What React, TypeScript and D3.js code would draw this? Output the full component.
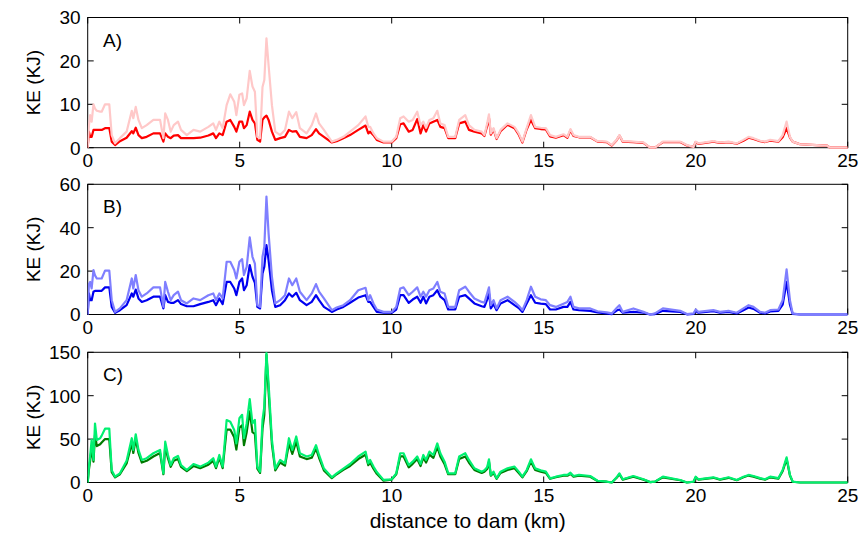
import React from "react";
import * as d3 from "d3";

// distance to dam (km), shared by all series
const distanceKm = [
  0, 0.04, 0.08, 0.13, 0.19, 0.24, 0.3, 0.41, 0.46, 0.57, 0.71, 0.79, 0.9, 1.06, 1.28, 1.45, 1.5, 1.58, 1.67, 1.78,
  1.94, 2.16, 2.38, 2.49, 2.55, 2.64, 2.73, 2.83, 2.97, 3.07, 3.26, 3.48, 3.7, 3.97, 4.13, 4.22, 4.33, 4.44, 4.57, 4.69,
  4.82, 4.89, 4.99, 5.08, 5.14, 5.23, 5.33, 5.42, 5.5, 5.58, 5.67, 5.75, 5.81, 5.88, 5.95, 6.06, 6.17, 6.33, 6.49, 6.62,
  6.73, 6.86, 6.98, 7.2, 7.37, 7.51, 7.61, 7.77, 8.03, 8.19, 8.41, 8.63, 8.9, 9.14, 9.23,
  9.29, 9.4, 9.51, 9.73, 10.0, 10.15, 10.28, 10.39, 10.56, 10.69, 10.84, 10.95, 11.04, 11.13, 11.24, 11.37, 11.5, 11.6, 11.74, 11.86,
  12.09, 12.22, 12.42, 12.54, 12.72, 12.96, 13.05, 13.14, 13.2, 13.26, 13.35, 13.45, 13.58, 13.81, 14.04, 14.18, 14.3, 14.44, 14.58, 14.72,
  14.9, 15.07, 15.21, 15.4, 15.65, 15.78, 15.88, 15.98, 16.16, 16.53, 16.77, 17.07, 17.24, 17.4, 17.49, 17.6, 17.95, 18.28, 18.5, 18.66,
  18.92,
  19.49, 19.71, 19.93, 20.0, 20.09, 20.58, 20.8, 21.08, 21.35, 21.57, 21.74, 21.9, 22.12, 22.28, 22.45, 22.72, 22.86, 22.99, 23.1, 23.19,
  23.43, 23.98, 24.31, 24.42, 25.0,
];

// Panel A (red)
const keALight = [
  0, 5, 7.5, 6, 10, 9, 8.5, 8.3, 8.3, 10, 10, 2.9, 1.0, 2.2, 3.7, 8.5, 6.8, 9.4, 6.4, 4.5,
  5.2, 6.4, 6.4, 2.2, 7.9, 6.4, 3.7, 5.2, 6.0, 4.1, 2.9, 4.1, 3.7, 4.8, 5.6, 4.1, 6.0, 4.5, 9.8, 12.3,
  10.6, 7.5, 12.2, 12.5, 9.8, 11.4, 17.7, 14.1, 12.9, 2.5, 2.2, 14, 15.6, 25.2, 19, 9.8, 3.7, 2.9, 4.1, 8.3,
  6.8, 8.2, 4.5, 3.3, 5.2, 7.9, 5.6, 4.1, 1.4, 1.8, 2.5, 3.7, 5.2, 7.2, 4.8,
  4.8, 3.3, 2.2, 1.4, 1.4, 2.5, 6.8, 7.2, 6.0, 6.4, 8.3, 5.2, 6.0, 4.6, 6.4, 6.8, 8.5, 5.6, 5.2, 2.5,
  2.5, 6.4, 7.5, 5.2, 4.1, 3.7, 2.9, 5.6, 7.7, 3.3, 4.5, 2.2, 4.1, 5.6, 4.8, 3.3, 1.4, 4.5, 7.5, 4.8,
  4.6, 4.5, 2.9, 2.5, 3.1, 2.5, 4.3, 2.9, 2.5, 2.5, 1.5, 1.4, 0.6, 1.8, 2.9, 1.5, 1.4, 1.2, 0, 0,
  1.4,
  1.4, 0.6, 0.2, 1.4, 1.0, 1.5, 1.2, 1.4, 1.0, 1.8, 2.5, 2.2, 1.6, 1.4, 1.8, 1.5, 2.9, 6.0, 2.5, 1.4,
  0.8, 0.6, 0.5, 0, 0,
];
const keADark = [
  0, 3.7, 2.5, 2.5, 4.1, 4.1, 4.1, 4.1, 4.1, 4.5, 4.5, 1.4, 0.6, 1.5, 2.3, 3.8, 3.3, 4.6, 2.9, 2.2,
  2.5, 3.3, 3.3, 1.4, 3.3, 2.5, 2.2, 2.8, 2.9, 2.2, 2.2, 2.2, 2.3, 2.8, 3.3, 2.2, 3.3, 2.9, 6.0, 6.4,
  4.8, 3.7, 6, 6, 4.5, 5.2, 8.3, 6.4, 5.6, 1.8, 1.4, 6.4, 7, 7.4, 6.4, 3.7, 1.8, 2.2, 2.5, 4.1,
  3.7, 3.8, 2.5, 2.2, 2.9, 4.3, 3.3, 2.5, 1.2, 1.5, 2.2, 2.9, 4.1, 5.1, 3.3,
  3.7, 2.9, 1.8, 1.2, 1.2, 2.2, 5.4, 5.6, 3.7, 4.1, 6.6, 3.3, 5.2, 3.7, 5.6, 6.0, 6.4, 4.8, 4.5, 2.2,
  2.2, 5.6, 6.0, 4.1, 3.7, 3.3, 2.7, 5.0, 6.9, 3.0, 4.2, 2.0, 3.8, 5.3, 4.5, 3.0, 1.2, 4.2, 6.4, 4.5,
  4.3, 4.2, 2.6, 2.3, 2.9, 2.3, 4.0, 2.7, 2.4, 2.4, 1.4, 1.3, 0.5, 1.7, 2.8, 1.4, 1.3, 1.1, 0, 0,
  1.3,
  1.3, 0.5, 0.2, 1.3, 0.9, 1.4, 1.1, 1.3, 0.9, 1.6, 2.3, 2.0, 1.5, 1.3, 1.6, 1.4, 2.4, 4.5, 2.3, 1.4,
  0.8, 0.6, 0.5, 0, 0,
];

// Panel B (blue)
const keBLight = [
  0, 14, 15, 12, 20.5, 18, 16.6, 16.6, 16.6, 20.2, 20.2, 6.6, 1.2, 2.8, 6.6, 16.6, 12, 18.2, 11.2, 8.2,
  9.7, 12.5, 12.5, 3.5, 15, 10.5, 6.6, 8.9, 10.5, 6.6, 5.1, 7.4, 6.6, 8.9, 9.7, 6.6, 9.7, 7.4, 24.3, 24.3,
  20.5, 16.6, 24.3, 25.5, 18.2, 22, 35.5, 26.6, 23.5, 4.3, 3.5, 26.6, 31.2, 54.3, 37.4, 17.4, 5.1, 6.6, 8.9, 16.6,
  13.5, 16.6, 10.5, 6.6, 9.7, 14, 10.5, 7.4, 2, 3.2, 4.3, 6.6, 11.2, 12.3, 6.6,
  8.9, 5.1, 2.3, 1.2, 1.2, 3.5, 12, 12.5, 8.9, 10.5, 12.5, 8.2, 10.5, 8.2, 11.2, 12, 15, 10.5, 9.7, 3.5,
  3.5, 11.2, 12.8, 10.5, 7.4, 5.8, 5.5, 9.7, 12.5, 4.3, 6.6, 2.8, 6.6, 8.2, 5.8, 4, 2, 6.6, 12.8, 8.2,
  7, 6.6, 4.3, 3.5, 5, 5.8, 8.2, 3.5, 2.8, 2.8, 1.5, 1.0, 0.5, 3.0, 4.3, 1.2, 2.8, 1.2, 0, 0.5,
  2.8,
  1.7, 0.2, 0.5, 2.3, 1.2, 2, 1.2, 1.7, 0.8, 2.8, 4.3, 3.5, 1.2, 0.8, 2, 2.3, 6.6, 20.8, 6.6, 0.5,
  0, 0, 0, 0, 0,
];
const keBDark = [
  0, 9.7, 6.6, 6.6, 10.5, 10.9, 10.9, 10.9, 10.9, 12.5, 12.5, 3.5, 0.8, 2, 4.3, 9.7, 8.2, 11.5, 7.4, 5.8,
  6.6, 8.2, 8.2, 2.8, 8.9, 5.8, 5.4, 5.4, 6.6, 4.8, 3.8, 3.8, 4.8, 5.8, 6.6, 4.3, 7.4, 4.8, 15, 15,
  12, 8.9, 15, 16.6, 11.2, 13.5, 22.8, 17.4, 14.6, 3.5, 2.8, 18.9, 22, 32, 25.1, 11.2, 3.5, 4.3, 6.6, 9.7,
  8.2, 10, 6.6, 4.3, 5.8, 8.9, 6.6, 3.5, 1.2, 2.3, 3.5, 5.4, 7.8, 8.9, 5.8,
  5.8, 3.5, 1.2, 0.8, 0.8, 2.3, 8.9, 8.9, 5.4, 6.9, 8.2, 5.4, 8.2, 5.1, 8.2, 8.9, 11.2, 8.2, 6.6, 2.3,
  2.3, 8.2, 8.9, 7.4, 5.1, 3.8, 3.5, 6.9, 9.7, 2.8, 4.8, 2, 5.1, 6.6, 4.3, 3, 1.2, 5.1, 8.9, 5.4,
  5, 4.8, 2.3, 2.3, 3.5, 3.5, 5.8, 2.3, 2, 1.7, 1.0, 0.5, 0.2, 1.8, 2.3, 0.8, 1.2, 0.8, 0, 0.2,
  1.7,
  1.2, 0.1, 0.3, 1.7, 0.8, 1.5, 0.8, 1.2, 0.5, 2, 3.2, 2.6, 0.8, 0.5, 1.4, 1.7, 4.5, 15, 4.5, 0.3,
  0, 0, 0, 0, 0,
];

// Panel C (green)
const keCLight = [
  0, 18, 30, 49, 26, 68, 49, 51, 54, 62, 62, 14, 6.7, 10.6, 25, 51, 37.5, 55.6, 37.5, 26,
  28, 33.7, 37.5, 10.6, 47, 31.7, 20, 28, 30.6, 20, 14.4, 21.3, 18.3, 22.9, 28, 18.3, 31.7, 18.3, 72, 70,
  60.6, 45, 74, 78, 51, 68, 96, 68, 72, 18.3, 12.5, 72, 87.5, 149, 114, 49, 16, 26, 22, 51,
  37.5, 53, 33.7, 30, 31.7, 43, 31.7, 16, 6, 10.6, 16, 21.3, 30, 35.6, 22,
  26, 18.3, 12, 3, 3.7, 10.6, 33.7, 33.7, 20, 24, 30, 21.3, 31.7, 26, 35.6, 31.7, 45, 33.7, 24, 10.6,
  10.6, 30, 33.7, 26, 16.3, 12.5, 14, 17.5, 26.7, 8.7, 12.5, 4.8, 12.5, 16.3, 18.3, 12.5, 6.7, 14.4, 26.7, 16.3,
  14, 12.5, 4.8, 6.7, 8.7, 8.7, 11.3, 7.5, 8.7, 7.5, 2, 1, 0, 6, 10.6, 3.7, 7.5, 3.7, 0.5, 1,
  6.7,
  2.9, 0, 1, 6.7, 3.7, 6, 3.7, 6, 2.9, 6.7, 8.7, 7.5, 5, 3.7, 6.7, 5, 14.4, 29, 8.7, 1,
  0, 0, 0, 0, 0,
];
const keCDark = [
  0, 15, 25, 40, 24, 55, 42, 44, 46, 50, 50, 12, 6, 9.5, 22, 45, 34, 50, 34, 23,
  25, 30, 34, 9.5, 42, 28, 18, 25, 27, 18, 13, 19, 16.5, 20.5, 25, 16.5, 28.5, 16.5, 61, 61,
  52, 38, 63, 66, 43, 58, 82, 58, 56, 16, 11, 62, 78, 147, 105, 44, 14, 23, 19.5, 45,
  33, 47, 30, 27, 28.5, 39, 28.5, 14, 5, 9.5, 14.5, 19, 27, 32, 20,
  23, 16, 10, 2, 3.3, 9.5, 30, 30, 17.5, 21.5, 27, 19, 28.5, 23, 32, 28.5, 41, 30, 21, 9.5,
  9.5, 27, 30, 23, 14.5, 11, 12.5, 15.5, 24, 7.8, 11, 4.3, 11, 14.5, 16.5, 11, 6, 13, 24, 14.5,
  12.5, 11, 4.3, 6, 7.8, 7.8, 10, 6.7, 7.8, 6.7, 1.8, 0.9, 0, 5.4, 9.5, 3.3, 6.7, 3.3, 0.4, 0.9,
  6,
  2.6, 0, 0.9, 6, 3.3, 5.4, 3.3, 5.4, 2.6, 6, 8, 6.8, 4.5, 3.3, 6, 4.5, 13, 27, 8, 0.9,
  0, 0, 0, 0, 0,
];

const xTicks = [0, 5, 10, 15, 20, 25];
const yTicksA = [0, 10, 20, 30];
const yTicksB = [0, 20, 40, 60];
const yTicksC = [0, 50, 100, 150];
const panelLabels = ["A)", "B)", "C)"];
const yAxisTitle = "KE (KJ)";
const xAxisTitle = "distance to dam (km)";

const W = 863;
const H = 545;
const X0 = 87.7;
const X1 = 847.7;
const FONT = "'Liberation Sans', Arial, Helvetica, sans-serif";
const FS = 19;

const panels = [
  { top: 17.5, bottom: 147.7, max: 30, ticks: yTicksA, light: keALight, dark: keADark, lightColor: "#ffc8c8", darkColor: "#ff0000" },
  { top: 184.3, bottom: 314.5, max: 60, ticks: yTicksB, light: keBLight, dark: keBDark, lightColor: "#7f7fff", darkColor: "#0000f0" },
  { top: 352.3, bottom: 482.5, max: 150, ticks: yTicksC, light: keCLight, dark: keCDark, lightColor: "#00f070", darkColor: "#007a00" },
];

export default function App() {
  const x = d3.scaleLinear().domain([0, 25]).range([X0, X1]);
  const TL = 6;
  return (
    <svg
      width={W}
      height={H}
      viewBox={`0 0 ${W} ${H}`}
      style={{ position: "absolute", left: 0, top: 0, background: "#fff" }}
      fontFamily={FONT}
    >
      <rect x={0} y={0} width={W} height={H} fill="#fff" />
      {panels.map((p, i) => {
        const y = d3.scaleLinear().domain([0, p.max]).range([p.bottom, p.top]);
        const line = d3
          .line<number>()
          .x((_, k) => x(distanceKm[k]))
          .y((v) => y(v));
        const n = Math.min(distanceKm.length, p.light.length, p.dark.length);
        const light = p.light.slice(0, n);
        const dark = p.dark.slice(0, n);
        const clipId = `clip${i}`;
        const cy = (p.top + p.bottom) / 2;
        return (
          <g key={i}>
            <defs>
              <clipPath id={clipId}>
                <rect x={X0} y={p.top - 1} width={X1 - X0} height={p.bottom - p.top + 2.5} />
              </clipPath>
            </defs>
            <rect x={X0} y={p.top} width={X1 - X0} height={p.bottom - p.top} fill="none" stroke="#000" strokeWidth={1} />
            {xTicks.map((t) => (
              <g key={`xt${t}`}>
                <line x1={x(t)} x2={x(t)} y1={p.bottom} y2={p.bottom - TL} stroke="#000" />
                <line x1={x(t)} x2={x(t)} y1={p.top} y2={p.top + TL} stroke="#000" />
                <text x={x(t)} y={p.bottom + 19} textAnchor="middle" fontSize={FS} fill="#000">
                  {t}
                </text>
              </g>
            ))}
            {p.ticks.map((t) => (
              <g key={`yt${t}`}>
                <line x1={X0} x2={X0 + TL} y1={y(t)} y2={y(t)} stroke="#000" />
                <line x1={X1} x2={X1 - TL} y1={y(t)} y2={y(t)} stroke="#000" />
                <text x={X0 - 7} y={y(t) + 6.8} textAnchor="end" fontSize={FS} fill="#000">
                  {t}
                </text>
              </g>
            ))}
            <g clipPath={`url(#${clipId})`}>
              <path d={line(dark) || ""} fill="none" stroke={p.darkColor} strokeWidth={2.2} strokeLinejoin="round" />
              <path d={line(light) || ""} fill="none" stroke={p.lightColor} strokeWidth={2.2} strokeLinejoin="round" />
            </g>
            <text x={103} y={p.top + 29} fontSize={FS} fill="#000">
              {panelLabels[i]}
            </text>
            <text
              transform={`translate(40,${cy}) rotate(-90)`}
              textAnchor="middle"
              fontSize={FS}
              fill="#000"
            >
              {yAxisTitle}
            </text>
          </g>
        );
      })}
      <text x={(X0 + X1) / 2} y={528} textAnchor="middle" fontSize={21} fill="#000">
        {xAxisTitle}
      </text>
    </svg>
  );
}
